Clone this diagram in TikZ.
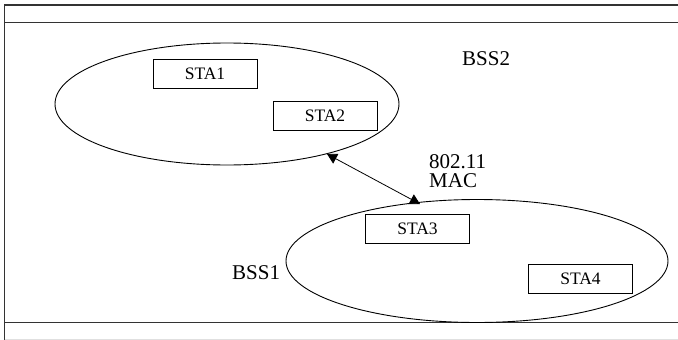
\documentclass[tikz,border=0pt]{standalone}
\usepackage{fontspec}
\setmainfont{Liberation Serif}
\usetikzlibrary{shapes.geometric,arrows.meta}
\begin{document}
\begin{tikzpicture}[x=1pt,y=-1pt,
  frame/.style={line width=1.1pt,draw=black!80},
  bss/.style={ellipse,draw,line width=0.9pt,inner sep=0pt},
  sta/.style={draw,line width=0.8pt,minimum width=104pt,minimum height=29pt,inner sep=0pt,font=\fontsize{17.5}{19}\selectfont},
  lbl/.style={font=\fontsize{21}{22}\selectfont,inner sep=0pt},
  link/.style={line width=0.8pt,{Triangle[width=11pt,length=10pt]}-{Triangle[width=11pt,length=10pt]}}]
\useasboundingbox (0,0) rectangle (678,340);
% frame
\coordinate (f1) at (4.5,5); \coordinate (f2) at (678,5);
\coordinate (f3) at (4.5,22.7); \coordinate (f4) at (678,22.7);
\coordinate (f5) at (4.5,322.7); \coordinate (f6) at (678,322.7);
\coordinate (f7) at (4.5,340); \coordinate (f8) at (4.5,339); \coordinate (f9) at (678,339);
\draw[frame] (f2) -- (f1) -- (f7);
\draw[frame] (f3) -- (f4);
\draw[frame] (f5) -- (f6);
\draw[line width=0.8pt,draw=black!12] (f8) -- (f9);
% ellipses
\node[bss,minimum width=344pt,minimum height=122pt] (bss2) at (227,104) {};
\node[bss,minimum width=382pt,minimum height=123pt] (bss1) at (477,261) {};
% stations
\node[sta] (sta1) at (205,73.5) {STA1};
\node[sta] (sta2) at (325,115.5) {STA2};
\node[sta] (sta3) at (417.5,228.5) {STA3};
\node[sta] (sta4) at (580.5,278.5) {STA4};
% labels
\node[lbl,anchor=west] (l2) at (462,59) {BSS2};
\node[lbl,anchor=west] (l1) at (232,273) {BSS1};
\node[lbl,anchor=north west,align=left] (mac) at (429,154) {802.11\\[-3pt]MAC};
% link
\coordinate (a1) at (327,154);
\coordinate (a2) at (420,204);
\draw[link] (a1) -- (a2);
\end{tikzpicture}
\end{document}
